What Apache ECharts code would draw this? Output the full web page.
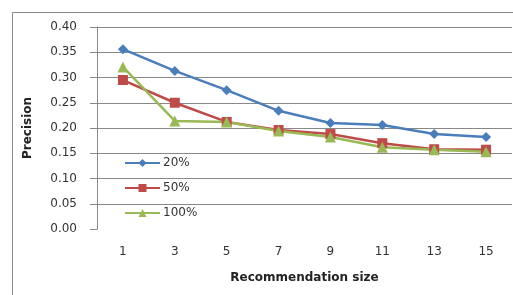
<!DOCTYPE html>
<html lang="en">
<head>
    <meta charset="UTF-8">
    <title>Precision</title>
    <script src="https://cdn.jsdelivr.net/npm/echarts@6/dist/echarts.min.js"></script>
</head>
<style>
    html, body {
        margin: 0;
        height: 100%;
        background: #fff;
    }
</style>
<body>
<div id="main" style="width: 513px;height:295px"></div>
<script type="text/javascript">
    var sizes = ['1', '3', '5', '7', '9', '11', '13', '15'];
    var p20 = [0.356, 0.313, 0.275, 0.234, 0.210, 0.206, 0.188, 0.182];
    var p50 = [0.295, 0.250, 0.212, 0.196, 0.188, 0.170, 0.158, 0.157];
    var p100 = [0.321, 0.214, 0.212, 0.194, 0.182, 0.162, 0.157, 0.153];

    var font = 'DejaVu Sans';
    var grey = '#888';

    function mkSeries(name, data, color, symbol, size) {
        return {
            name: name,
            type: 'line',
            data: data,
            symbol: symbol,
            symbolSize: size,
            lineStyle: {color: color, width: 2.5},
            itemStyle: {color: color},
            animation: false
        };
    }

    var myChart = echarts.init(document.getElementById('main'));
    var option = {
        backgroundColor: '#fff',
        graphic: [{
            type: 'rect',
            shape: {x: 12.5, y: 12.5, width: 600, height: 400},
            style: {fill: 'none', stroke: grey, lineWidth: 1},
            silent: true
        }],
        grid: {left: 97, top: 27, right: 1, bottom: 66},
        legend: {
            orient: 'vertical',
            left: 124,
            top: 157,
            padding: 0,
            itemWidth: 35,
            itemHeight: 10,
            itemGap: 13,
            textStyle: {fontFamily: font, fontSize: 12, color: '#333', padding: [0, 0, 0, -2]},
            data: ['20%', '50%', '100%']
        },
        xAxis: {
            type: 'category',
            data: sizes,
            name: 'Recommendation size',
            nameLocation: 'middle',
            nameGap: 43,
            nameTextStyle: {fontFamily: font, fontSize: 12, fontWeight: 'bold', color: '#222'},
            axisLine: {show: false},
            axisTick: {show: false},
            axisLabel: {fontFamily: font, fontSize: 12, color: '#333', margin: 17}
        },
        yAxis: {
            type: 'value',
            min: 0,
            max: 0.4,
            interval: 0.05,
            name: 'Precision',
            nameLocation: 'middle',
            nameGap: 63,
            nameTextStyle: {fontFamily: font, fontSize: 12, fontWeight: 'bold', color: '#222'},
            axisLine: {show: true, lineStyle: {color: grey}},
            axisTick: {show: true, length: 7, lineStyle: {color: grey}},
            axisLabel: {
                fontFamily: font, fontSize: 12, color: '#333', margin: 20,
                formatter: function (v) { return v.toFixed(2); }
            },
            splitLine: {
                lineStyle: {
                    color: ['rgba(0,0,0,0)', grey, grey, grey, grey, grey, grey, grey, grey],
                    width: 1
                }
            }
        },
        series: [
            mkSeries('20%', p20, '#4a7ebb', 'diamond', 10),
            mkSeries('50%', p50, '#be4b48', 'rect', 10),
            mkSeries('100%', p100, '#98b954', 'triangle', 11)
        ]
    };
    myChart.setOption(option);
</script>
</body>
</html>
